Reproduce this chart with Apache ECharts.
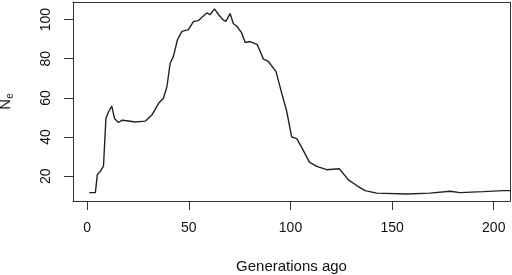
<!DOCTYPE html>
<html>
<head>
<meta charset="utf-8">
<script src="https://cdn.jsdelivr.net/npm/echarts@6/dist/echarts.min.js"></script>
<style>
  html, body { margin: 0; padding: 0; background: #fff; }
  #chart { width: 512px; height: 275px; }
</style>
</head>
<body>
<div id="chart"></div>
<script>
// generations ago (x) and effective population size (y)
var gens = [1, 4, 5, 6.4, 8, 9.2, 10.5, 12.1, 13.4, 15.4, 17.1, 19.5, 23.6, 28.5, 31.8, 35.1, 37.5, 39.2,
  40.8, 42.4, 44.4, 46.6, 49.8, 52.3, 54.7, 58.8, 60.5, 62.6, 64.6, 66.7, 68.2, 70.3, 71.9, 73.6, 76,
  77.7, 80.1, 83.7, 86.7, 89.1, 92.9, 95.7, 98.2, 100.6, 103.1, 106.3, 109.3, 112.9, 117.8, 124,
  128.5, 132.6, 136.7, 142.4, 157.2, 168.6, 178.5, 183.4, 194.8, 204.7, 208]
var ne = [11.6, 11.6, 20.9, 22.4, 25.1, 49.5, 52.9, 55.8, 49.5, 47.4, 48.6, 48.3, 47.7, 48.1, 51.2, 57.2, 59.8, 65.7,
  77.7, 81.2, 89.7, 94.0, 94.9, 99.1, 99.5, 103.4, 102.6, 105.5, 102.6, 100, 99.1, 103.1, 97.9, 96.6, 93.2,
  88.3, 88.8, 87.2, 79.8, 78.6, 73.4, 62.3, 52.9, 40.0, 39.2, 33.2, 27.2, 25.0, 23.3, 23.8,
  18.1, 15.2, 12.6, 11.3, 10.9, 11.3, 12.3, 11.6, 12.1, 12.6, 12.6]
var xTicks = [0, 50, 100, 150, 200]
var yTicks = [20, 40, 60, 80, 100]

var chart = echarts.init(document.getElementById('chart'))
var font = 'Liberation Sans, Arial, sans-serif'
// the four axis lines make the box round the plot
var boxLine = { show: true, onZero: false, lineStyle: { color: '#333', width: 1 } }

chart.setOption({
  animation: false,
  grid: {
    left: 73, right: 2, top: 2, bottom: 74,
    outerBoundsMode: 'none',
    containLabel: false
  },
  xAxis: [{
    type: 'value',
    position: 'bottom',
    min: -7,
    max: 208,
    name: 'Generations ago',
    nameLocation: 'middle',
    nameGap: 58,
    nameTextStyle: { color: '#111', fontSize: 15, fontFamily: font },
    axisLine: boxLine,
    splitLine: { show: false },
    axisTick: { show: true, inside: false, length: 9, lineStyle: { color: '#333' }, customValues: xTicks },
    axisLabel: { color: '#111', fontSize: 14, fontFamily: font, margin: 20, customValues: xTicks }
  }, {
    type: 'value',
    position: 'top',
    min: -7,
    max: 208,
    axisLine: boxLine,
    axisTick: { show: false },
    axisLabel: { show: false },
    splitLine: { show: false }
  }],
  yAxis: [{
    type: 'value',
    position: 'left',
    min: 7.3,
    max: 109,
    name: '{a|N}{b|e}',
    nameLocation: 'middle',
    nameGap: 58,
    nameTextStyle: {
      fontFamily: font,
      rich: {
        a: { fontSize: 15, color: '#111', fontFamily: font },
        b: { fontSize: 10, color: '#111', fontFamily: font, padding: [8, 0, 0, 0] }
      }
    },
    axisLine: boxLine,
    splitLine: { show: false },
    axisTick: { show: true, inside: false, length: 9, lineStyle: { color: '#333' }, customValues: yTicks },
    axisLabel: { color: '#111', fontSize: 14, fontFamily: font, margin: 20, rotate: 90, customValues: yTicks }
  }, {
    type: 'value',
    position: 'right',
    min: 7.3,
    max: 109,
    axisLine: boxLine,
    axisTick: { show: false },
    axisLabel: { show: false },
    splitLine: { show: false }
  }],
  series: [{
    type: 'line',
    data: gens.map(function (g, i) { return [g, ne[i]] }),
    showSymbol: false,
    lineStyle: { color: '#222', width: 1.4 }
  }]
})
</script>
</body>
</html>
